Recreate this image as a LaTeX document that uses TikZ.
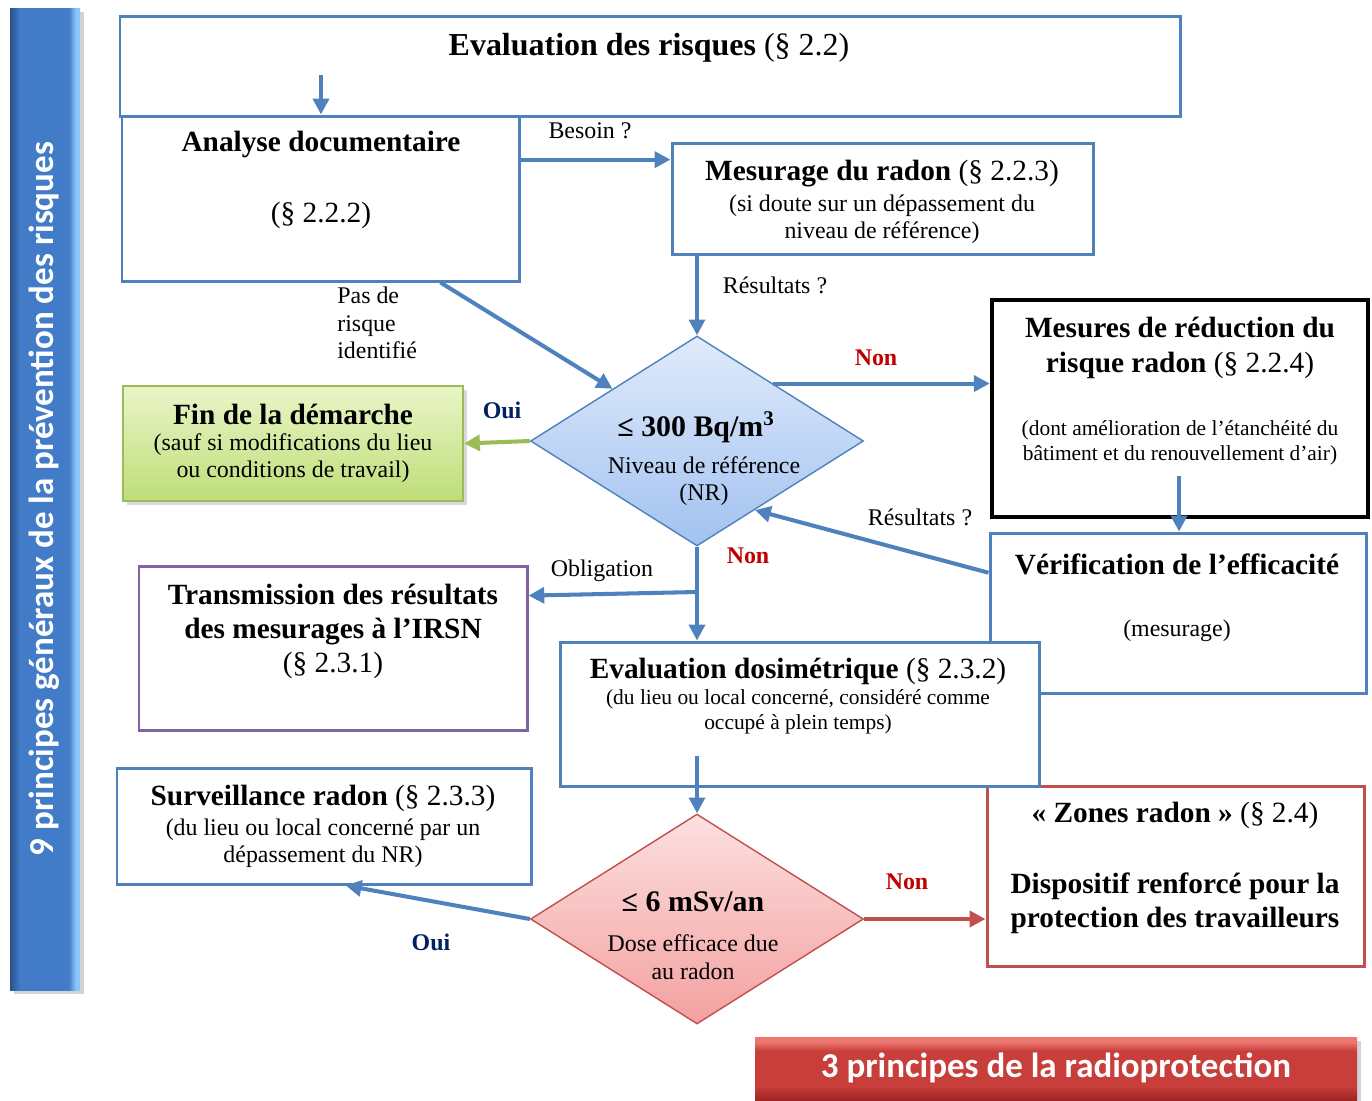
\documentclass[tikz,border=0pt]{standalone}
\usepackage{fontspec}
\setmainfont{Liberation Serif}
\newfontfamily\bandeaufont{Carlito}
\usepackage{tikz}
\usetikzlibrary{shapes.geometric, arrows.meta, fit, shadows}

\definecolor{boxblue}{RGB}{79,129,189}
\definecolor{boxgreen}{RGB}{155,187,89}
\definecolor{boxpurple}{RGB}{128,100,162}
\definecolor{boxred}{RGB}{192,80,77}
\definecolor{ouiblue}{RGB}{0,32,96}
\definecolor{nonred}{RGB}{192,0,0}
\definecolor{finhaut}{RGB}{234,245,200}
\definecolor{finbas}{RGB}{190,222,120}
\definecolor{nrhaut}{RGB}{224,235,251}
\definecolor{nrbas}{RGB}{162,194,240}
\definecolor{dosehaut}{RGB}{252,224,224}
\definecolor{dosebas}{RGB}{244,160,160}
\definecolor{bleufonce}{RGB}{42,82,140}
\definecolor{bleumilieu}{RGB}{66,124,200}
\definecolor{bleuclair}{RGB}{140,198,248}
\definecolor{rougeclair}{RGB}{236,118,112}
\definecolor{rougemilieu}{RGB}{200,62,58}
\definecolor{rougefonce}{RGB}{160,36,36}

% la zone utile d'un degrade TikZ va de 25bp a 75bp
\pgfdeclarehorizontalshading{bandeaubleu}{100bp}{color(0bp)=(bleufonce); color(25bp)=(bleufonce);
	color(32bp)=(bleumilieu); color(67bp)=(bleumilieu); color(72bp)=(bleuclair); color(100bp)=(bleuclair)}
\pgfdeclareverticalshading{bandeaurouge}{100bp}{color(0bp)=(rougefonce); color(25bp)=(rougefonce);
	color(36bp)=(rougemilieu); color(64bp)=(rougemilieu); color(71bp)=(rougeclair); color(100bp)=(rougeclair)}

\tikzstyle{box} = [rectangle, draw=boxblue, fill=white, line width=1.7pt, inner sep=0pt]
\tikzstyle{decision} = [diamond, draw=boxblue, line width=0.8pt, inner sep=0pt,
	minimum width=6.66cm, minimum height=4.2cm]
\tikzstyle{bandeau} = [rectangle, inner sep=0pt, drop shadow={opacity=0.35}]
\tikzstyle{bandeautxt} = [text=white, inner sep=0pt, font=\bandeaufont\bfseries\fontsize{19.9}{22}\selectfont]
\tikzstyle{titre} = [font=\fontsize{16.7}{20}\selectfont, align=center, inner sep=0pt]
\tikzstyle{texte} = [font=\fontsize{13.6}{15.6}\selectfont, align=center, inner sep=0pt]
\tikzstyle{petit} = [font=\fontsize{12.2}{14}\selectfont, align=center, inner sep=0pt]
\tikzstyle{seuil} = [font=\bfseries\fontsize{17}{20}\selectfont, inner sep=0pt]
\tikzstyle{oui} = [font=\bfseries\fontsize{13.6}{16}\selectfont, text=ouiblue, inner sep=0pt]
\tikzstyle{non} = [font=\bfseries\fontsize{13.6}{16}\selectfont, text=nonred, inner sep=0pt]
\tikzstyle{fleche} = [-{Triangle[length=9pt, width=9pt]}, line width=2.3pt, draw=boxblue]

\begin{document}
\begin{tikzpicture}[x=0.02cm, y=-0.02cm]
		\useasboundingbox (0,0) rectangle (1372,1100);
		%Place node
		\node [bandeau, shade, shading=bandeaubleu, fit={(10,8) (80,990)}] (gauche) {};
		\node [bandeautxt, rotate=90] (gauchetxt) at (44,499) {9 principes généraux de la prévention des risques};
		\node [bandeau, shade, shading=bandeaurouge, fit={(755,1037) (1357,1100)}] (bas) {};
		\node [bandeautxt] (bastxt) at (1056,1068) {3 principes de la radioprotection};
		
		\node [box, fit={(120,16) (1180,116)}] (risques) {};
		\node [titre, font=\fontsize{18.2}{22}\selectfont] (risquestxt) at (649,48) {\textbf{Evaluation des risques} (§ 2.2)};
		\node [box, fit={(122,116) (519,281)}] (analyse) {};
		\node [titre] (analysetxt) at (321,144) {\textbf{Analyse documentaire}};
		\node [titre] (analysepar) at (321,215) {(§ 2.2.2)};
		\node [box, fit={(672,143) (1093,254)}] (mesurage) {};
		\node [titre] (mesuragetxt) at (882,174) {\textbf{Mesurage du radon} (§ 2.2.3)};
		\node [texte] (mesuragenote) at (882,219) {(si doute sur un dépassement du\\niveau de référence)};
		
		\node [decision, top color=nrhaut, bottom color=nrbas] (nr) at (697,441) {};
		\node [seuil] (nrtxt) at (696,427) {≤ 300 Bq/m\textsuperscript{3}};
		\node [texte] (nrnote) at (704,481) {Niveau de référence\\(NR)};
		
		\node [box, draw=boxgreen, line width=1.2pt, top color=finhaut, bottom color=finbas,
			drop shadow={opacity=0.3}, fit={(123,386) (463,501)}] (fin) {};
		\node [titre] (fintxt) at (293,414) {\textbf{Fin de la démarche}};
		\node [texte] (finnote) at (293,458) {(sauf si modifications du lieu\\ou conditions de travail)};
		
		\node [box, draw=black, line width=2.6pt, fit={(992,300) (1368,517)}] (mesures) {};
		\node [titre] (mesurestxt) at (1180,348) {\textbf{Mesures de réduction du}\\\textbf{risque radon} (§ 2.2.4)};
		\node [petit] (mesuresnote) at (1180,443) {(dont amélioration de l’étanchéité du\\bâtiment et du renouvellement d’air)};
		\node [box, fit={(990,533) (1366,693)}] (verif) {};
		\node [titre] (veriftxt) at (1177,564) {\textbf{Vérification de l’efficacité}};
		\node [texte] (verifnote) at (1177,631) {(mesurage)};
		\node [box, draw=boxred, fit={(987,786) (1364,966)}] (zones) {};
		\node [titre] (zonestxt) at (1175,815) {\textbf{« Zones radon »} (§ 2.4)};
		\node [titre, font=\bfseries\fontsize{16.7}{19.4}\selectfont] (zonesnote) at (1175,903) {Dispositif renforcé pour la\\protection des travailleurs};
		
		\node [box, draw=boxpurple, fit={(139,566) (527,730)}] (irsn) {};
		\node [titre, font=\fontsize{16.7}{19.4}\selectfont] (irsntxt) at (333,631) {\textbf{Transmission des résultats}\\\textbf{des mesurages à l’IRSN}\\(§ 2.3.1)};
		\node [box, fit={(560,642) (1039,786)}] (dosi) {};
		\node [titre] (dositxt) at (798,671) {\textbf{Evaluation dosimétrique} (§ 2.3.2)};
		\node [petit] (dosinote) at (798,712) {(du lieu ou local concerné, considéré comme\\occupé à plein temps)};
		
		\node [box, fit={(117,768) (531,884)}] (surv) {};
		\node [titre] (survtxt) at (323,798) {\textbf{Surveillance radon} (§ 2.3.3)};
		\node [texte] (survnote) at (323,843) {(du lieu ou local concerné par un\\dépassement du NR)};
		\node [decision, draw=boxred, top color=dosehaut, bottom color=dosebas] (dose) at (697,919) {};
		\node [seuil] (dosetxt) at (693,902) {≤ 6 mSv/an};
		\node [texte] (dosenote) at (693,957) {Dose efficace due\\au radon};
		
		%Labels
		\node [texte] (besoin) at (590,131) {Besoin ?};
		\node [texte] (res1) at (775,285) {Résultats ?};
		\node [texte, align=left, anchor=west] (pasrisque) at (337,323) {Pas de\\risque\\identifié};
		\node [oui] (oui1) at (502,410) {Oui};
		\node [non] (non1) at (876,358) {Non};
		\node [texte] (res2) at (920,517) {Résultats ?};
		\node [non] (non2) at (748,556) {Non};
		\node [texte] (oblig) at (602,571) {Obligation};
		\node [oui] (oui2) at (431,942) {Oui};
		\node [non] (non3) at (907,882) {Non};
		
		\coordinate (risquespied) at (321,75);
		\coordinate (mesurespied) at (1179,476);
		\coordinate (branche) at (697,592);
		\coordinate (dosipied) at (697,756);
		
		%Draw edges
		\draw [fleche] (risquespied) -- (risquespied |- analyse.north);
		\draw [fleche] (analyse.11) -- (analyse.11 -| mesurage.west);
		\draw [fleche] (nr.north |- mesurage.south) -- (nr.north);
		\draw [fleche] (analyse.-35) -- (nr);
		\draw [fleche, draw=boxgreen] (nr.west) -- (fin.east);
		\draw [fleche] (nr.37) -- (nr.37 -| mesures.west);
		\draw [fleche] (mesurespied) -- (mesurespied |- verif.north);
		\draw [fleche] (verif.168) -- (nr.-50);
		\draw [fleche] (nr.south) -- (dosi.north -| nr.south);
		\draw [fleche] (branche) -- (irsn.15);
		\draw [fleche] (dosipied) -- (dose.north);
		\draw [fleche] (dose.west) -- (surv.-70);
		\draw [fleche, draw=boxred] (dose.east) -- (dose.east -| zones.west);
		
	\end{tikzpicture}
\end{document}
